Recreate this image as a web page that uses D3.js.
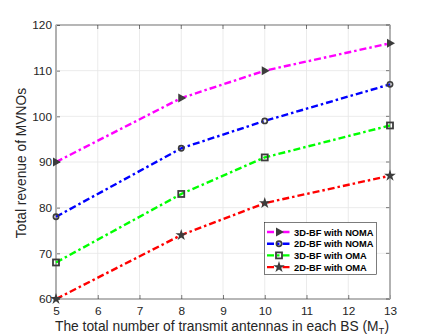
<!DOCTYPE html>
<html>
<head>
<meta charset="utf-8">
<script src="https://cdn.jsdelivr.net/npm/d3@7"></script>
<style>
  body { margin: 0; background: #fff; }
  text { font-family: "Liberation Sans", Arial, sans-serif; }
</style>
</head>
<body>
<script>
// antenna counts (x) and revenue per scheme
var antennas = [5, 8, 10, 13];
var bf3dNoma = [90, 104, 110, 116];
var bf2dNoma = [78, 93, 99, 107];
var bf3dOma = [68, 83, 91, 98];
var bf2dOma = [60, 74, 81, 87];
var seriesNames = ["3D-BF with NOMA", "2D-BF with NOMA", "3D-BF with OMA", "2D-BF with OMA"];
var xTicks = [5, 6, 7, 8, 9, 10, 11, 12, 13];
var yTicks = [60, 70, 80, 90, 100, 110, 120];

var width = 432, height = 336;
var plotL = 56, plotR = 390, plotT = 25, plotB = 299;

var series = [
    {name: seriesNames[0], vals: bf3dNoma, color: "#ff00ff", marker: "tri"},
    {name: seriesNames[1], vals: bf2dNoma, color: "#0000ff", marker: "circle"},
    {name: seriesNames[2], vals: bf3dOma, color: "#00ff00", marker: "square"},
    {name: seriesNames[3], vals: bf2dOma, color: "#ff0000", marker: "star"}
];

var svg = d3.select("body").append("svg")
    .attr("width", width)
    .attr("height", height);

var x = d3.scaleLinear().domain([5, 13]).range([plotL, plotR]);
var y = d3.scaleLinear().domain([60, 120]).range([plotB, plotT]);

// grid
svg.append("g").selectAll("line")
    .data(xTicks).enter().append("line")
    .attr("x1", function(d) { return x(d); })
    .attr("x2", function(d) { return x(d); })
    .attr("y1", plotT).attr("y2", plotB)
    .attr("stroke", "#e6e6e6").attr("stroke-width", 0.8);
svg.append("g").selectAll("line")
    .data(yTicks).enter().append("line")
    .attr("y1", function(d) { return y(d); })
    .attr("y2", function(d) { return y(d); })
    .attr("x1", plotL).attr("x2", plotR)
    .attr("stroke", "#e6e6e6").attr("stroke-width", 0.8);

// axes
var xAxis = d3.axisBottom(x).tickValues(xTicks).tickSize(-4).tickPadding(8).tickFormat(d3.format("d"));
var yAxis = d3.axisLeft(y).tickValues(yTicks).tickSize(-4).tickPadding(4).tickFormat(d3.format("d"));

var gx = svg.append("g").attr("transform", "translate(0," + plotB + ")").call(xAxis);
var gy = svg.append("g").attr("transform", "translate(" + plotL + ",0)").call(yAxis);
[gx, gy].forEach(function(g) {
    g.select(".domain").remove();
    g.selectAll("line").attr("stroke", "#262626").attr("stroke-width", 0.6);
    g.selectAll("text").attr("fill", "#262626").style("font-size", "11.8px");
});

// top/right ticks
svg.append("g").selectAll("line")
    .data(xTicks).enter().append("line")
    .attr("x1", function(d) { return x(d); })
    .attr("x2", function(d) { return x(d); })
    .attr("y1", plotT).attr("y2", plotT + 4)
    .attr("stroke", "#262626").attr("stroke-width", 0.6);
svg.append("g").selectAll("line")
    .data(yTicks).enter().append("line")
    .attr("y1", function(d) { return y(d); })
    .attr("y2", function(d) { return y(d); })
    .attr("x1", plotR).attr("x2", plotR - 4)
    .attr("stroke", "#262626").attr("stroke-width", 0.6);

// box
svg.append("rect")
    .attr("x", plotL).attr("y", plotT)
    .attr("width", plotR - plotL).attr("height", plotB - plotT)
    .attr("fill", "none").attr("stroke", "#262626").attr("stroke-width", 0.6);
svg.append("line")
    .attr("x1", plotL).attr("x2", plotL).attr("y1", plotT).attr("y2", plotB)
    .attr("stroke", "#b0b0b0").attr("stroke-width", 2);
svg.append("line")
    .attr("x1", plotR).attr("x2", plotR).attr("y1", plotT).attr("y2", plotB)
    .attr("stroke", "#b0b0b0").attr("stroke-width", 1.5);

var line = d3.line()
    .x(function(d, i) { return x(antennas[i]); })
    .y(function(d) { return y(d); });

function drawMarker(g, type, cx, cy) {
    var mc = "#3c3c3c";
    if (type == "tri") {
        g.append("path")
            .attr("d", "M" + (cx - 3) + "," + (cy - 4.5) + "L" + (cx + 5) + "," + cy + "L" + (cx - 3) + "," + (cy + 4.5) + "Z")
            .attr("fill", mc);
    } else if (type == "circle") {
        g.append("circle").attr("cx", cx).attr("cy", cy).attr("r", 2.6)
            .attr("fill", "none").attr("stroke", mc).attr("stroke-width", 1.7);
    } else if (type == "square") {
        g.append("rect").attr("x", cx - 3).attr("y", cy - 3).attr("width", 6).attr("height", 6)
            .attr("fill", "none").attr("stroke", mc).attr("stroke-width", 1.8);
    } else {
        g.append("path")
            .attr("d", d3.symbol().type(d3.symbolStar).size(42)())
            .attr("transform", "translate(" + cx + "," + cy + ")")
            .attr("fill", mc);
    }
}

series.forEach(function(s) {
    svg.append("path")
        .datum(s.vals)
        .attr("d", line)
        .attr("fill", "none")
        .attr("stroke", s.color)
        .attr("stroke-width", 2.4)
        .attr("stroke-dasharray", "7,3,2.5,3");
    var g = svg.append("g");
    s.vals.forEach(function(v, i) {
        drawMarker(g, s.marker, x(antennas[i]), y(v));
    });
});

// legend
var lg = svg.append("g");
lg.append("rect")
    .attr("x", 264.5).attr("y", 222.5).attr("width", 112).attr("height", 52)
    .attr("fill", "#fff").attr("stroke", "#262626").attr("stroke-width", 0.6);
series.forEach(function(s, i) {
    var ly = 232 + i * 11.7;
    lg.append("line")
        .attr("x1", 267).attr("x2", 292).attr("y1", ly).attr("y2", ly)
        .attr("stroke", s.color).attr("stroke-width", 2.4)
        .attr("stroke-dasharray", "7,3,2.5,3");
    drawMarker(lg, s.marker, 279, ly);
    lg.append("text")
        .attr("x", 294).attr("y", ly + 3.5)
        .style("font-size", "9.3px").style("font-weight", "bold")
        .attr("fill", "#000")
        .text(s.name);
});

// axis labels
var xl = svg.append("text")
    .attr("x", 222).attr("y", 331)
    .attr("text-anchor", "middle")
    .style("font-size", "13.8px")
    .attr("fill", "#262626");
xl.append("tspan").text("The total number of transmit antennas in each BS (M");
xl.append("tspan").attr("dy", 2.5).style("font-size", "9.5px").text("T");
xl.append("tspan").attr("dy", -2.5).text(")");

svg.append("text")
    .attr("transform", "translate(26,163) rotate(-90)")
    .attr("text-anchor", "middle")
    .style("font-size", "13.8px")
    .attr("fill", "#262626")
    .text("Total revenue of MVNOs");
</script>
</body>
</html>
